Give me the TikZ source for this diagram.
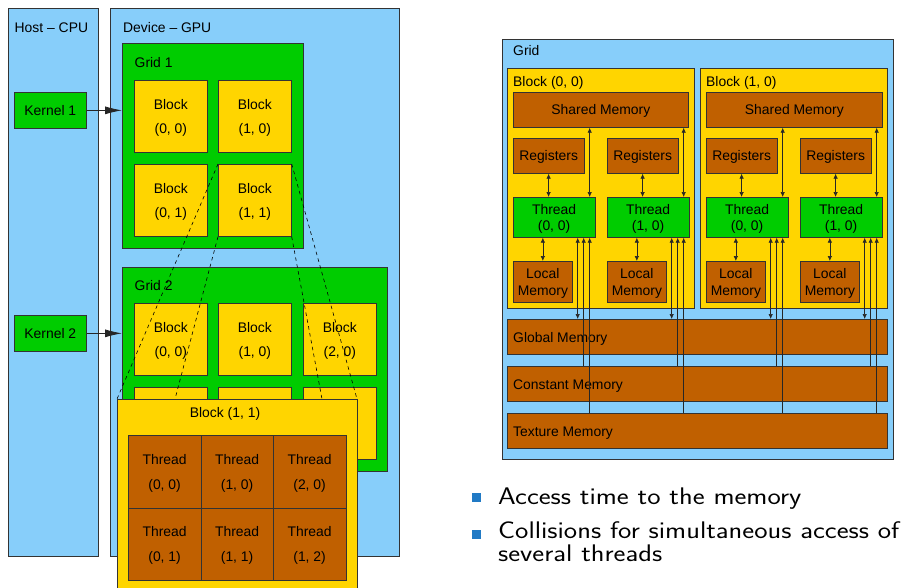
\documentclass[tikz,border=0pt]{standalone}
\usepackage{graphicx}
\usepackage{fontspec}
\newfontfamily\lsans{Liberation Sans}
\usetikzlibrary{arrows.meta}
\definecolor{lblue}{RGB}{135,206,250}
\definecolor{ggreen}{RGB}{0,204,0}
\definecolor{gold}{RGB}{255,213,0}
\definecolor{brn}{RGB}{192,96,0}
\definecolor{bulblue}{RGB}{33,122,197}
\tikzset{
  bx/.style={draw=black!80, line width=0.7pt, inner sep=0pt, anchor=north west, text=black},
  sz/.style 2 args={minimum width=#1pt, minimum height=#2pt},
  oneline/.style={font=\lsans\fontsize{13.9}{16.7}\selectfont, text height=10pt, text depth=0pt},
  twoline/.style 2 args={font=\lsans\fontsize{13.9}{#1}\selectfont, align=center, text height=#2, text depth=0pt},
  lbl/.style={anchor=base west, inner sep=0pt, text=black, font=\lsans\fontsize{13.9}{16.7}\selectfont},
  bigarr/.style={draw=black!85, line width=0.8pt, -{Latex[length=17pt,width=8pt]}},
  dsh/.style={draw=black, line width=0.6pt, dash pattern=on 3.5pt off 3.5pt},
  marr/.style={draw=black!85, line width=0.7pt},
  >={Latex[length=5pt,width=4.5pt]},
  bulsq/.style={fill=bulblue, minimum size=9pt, inner sep=0pt},
  btext/.style={anchor=base west, inner sep=0pt, font=\sffamily\fontsize{24}{23}\selectfont}
}
\newcommand{\wide}[1]{\scalebox{1.18}[1]{#1}}
\begin{document}
\begin{tikzpicture}[x=1pt,y=-1pt]
\useasboundingbox (0,0) rectangle (905,587);
\clip (0,0) rectangle (905,587);
% ---------------- left diagram ----------------
\node[bx, fill=lblue, sz={90}{548}] (host) at (8,8) {};
\node[bx, fill=lblue, sz={289}{548}] (dev) at (110,8) {};
\node[lbl] (hostl) at (14.5,32) {Host – CPU};
\node[lbl] (devl) at (123,32) {Device – GPU};
% grid 1
\node[bx, fill=ggreen, sz={181}{205}] (g1) at (122,43) {};
\node[lbl] (g1l) at (134.5,67.7) {Grid 1};
\foreach \nm/\xx/\yy/\lab in {g1b00/134/80/{(0, 0)}, g1b10/218/80/{(1, 0)}, g1b01/134/164/{(0, 1)}, g1b11/218/164/{(1, 1)}}
  \node[bx, fill=gold, sz={73}{72}, twoline={24pt}{34pt}] (\nm) at (\xx,\yy) {Block\\\lab};
% grid 2
\node[bx, fill=ggreen, sz={265}{204}] (g2) at (122,267) {};
\node[lbl] (g2l) at (134.5,290.7) {Grid 2};
\foreach \nm/\xx/\yy/\lab in {g2b00/134/303/{(0, 0)}, g2b10/218/303/{(1, 0)}, g2b20/303/303/{(2, 0)}}
  \node[bx, fill=gold, sz={73}{72}, twoline={24pt}{34pt}] (\nm) at (\xx,\yy) {Block\\\lab};
\foreach \nm/\xx in {g2b01/134, g2b11/218, g2b21/303}
  \node[bx, fill=gold, sz={73}{72}] (\nm) at (\xx,387) {};
% kernels
\node[bx, fill=ggreen, sz={72}{36}, oneline] (k1) at (14,92) {Kernel 1};
\node[bx, fill=ggreen, sz={72}{36}, oneline] (k2) at (14,315) {Kernel 2};
\draw[bigarr] (k1.east) -- (k1.east -| g1.west);
\draw[bigarr] (k2.east) -- (k2.east -| g2.west);
% dashed projection lines
\coordinate (ovtl) at (117,399);
\coordinate (ovtr) at (357,399);
\coordinate (ovbl) at (175,399);
\coordinate (ovbr) at (322,399);
\draw[dsh] (g1b11.north west) -- (ovtl);
\draw[dsh] (g1b11.north east) -- (ovtr);
\draw[dsh] (g1b11.south west) -- (ovbl);
\draw[dsh] (g1b11.south east) -- (ovbr);
% expanded block
\node[bx, fill=gold, sz={240}{230}] (ov) at (117,399) {};
\node[lbl, anchor=base] (ovl) at (225,417) {Block (1, 1)};
\foreach \nm/\xx/\yy/\lab in {t00/128/435/{(0, 0)}, t10/200.5/435/{(1, 0)}, t20/273/435/{(2, 0)}, t01/128/507.5/{(0, 1)}, t11/200.5/507.5/{(1, 1)}, t21/273/507.5/{(1, 2)}}
  \node[bx, fill=brn, sz={72.5}{72.5}, twoline={25pt}{35pt}] (\nm) at (\xx,\yy) {Thread\\\lab};
% ---------------- right diagram ----------------
\node[bx, fill=lblue, sz={391}{420}] (rgrid) at (502,39) {};
\node[lbl] (rgridl) at (513,55.7) {Grid};
\node[bx, fill=gold, sz={187}{240}] (rb0) at (507,68) {};
\node[bx, fill=gold, sz={187}{240}] (rb1) at (700,68) {};
\node[lbl] (rb0l) at (513,86) {Block (0, 0)};
\node[lbl] (rb1l) at (706,86) {Block (1, 0)};
\node[bx, fill=brn, sz={175}{35}, oneline] (sh0) at (513,92) {Shared Memory};
\node[bx, fill=brn, sz={176}{35}, oneline] (sh1) at (706,92) {Shared Memory};
\foreach \nm/\xx in {reg00/513, reg01/607, reg10/706, reg11/800}
  \node[bx, fill=brn, sz={70.5}{35}, oneline] (\nm) at (\xx,138) {Registers};
\foreach \nm/\xx/\lab in {th00/513/{(0, 0)}, th01/607/{(1, 0)}, th10/706/{(0, 0)}, th11/800/{(1, 0)}}
  \node[bx, fill=ggreen, sz={81.5}{40}, twoline={16.7pt}{26.7pt}] (\nm) at (\xx,197) {Thread\\\lab};
\foreach \nm/\xx in {lm00/513, lm01/607, lm10/706, lm11/800}
  \node[bx, fill=brn, sz={59}{41}, twoline={17pt}{27pt}] (\nm) at (\xx,261) {Local\\Memory};
\node[bx, fill=brn, sz={380}{35}] (gmem) at (507,319) {};
\node[bx, fill=brn, sz={380}{35}] (cmem) at (507,366) {};
\node[bx, fill=brn, sz={380}{35}] (tmem) at (507,413) {};
\node[lbl] (gmeml) at (513,342.7) {Global Memory};
\node[lbl] (cmeml) at (513,389.7) {Constant Memory};
\node[lbl] (tmeml) at (513,436.7) {Texture Memory};
% arrows per thread
\foreach \t/\r/\l/\s in {th00/reg00/lm00/sh0, th01/reg01/lm01/sh0, th10/reg10/lm10/sh1, th11/reg11/lm11/sh1}{
  \draw[marr, <->] (\r.south) -- (\r.south |- \t.north);
  \draw[marr, <->] ([xshift=-5.5pt]\t.north east |- \s.south) -- ([xshift=-5.5pt]\t.north east);
  \draw[marr, <->] (\l.north |- \t.south) -- (\l.north);
  \draw[marr, <->] ([xshift=-17.5pt]\t.south east) -- ([xshift=-17.5pt]\t.south east |- gmem.north);
  \draw[marr, ->] ([xshift=-11.5pt]\t.south east |- cmem.north) -- ([xshift=-11.5pt]\t.south east);
  \draw[marr, ->] ([xshift=-5.5pt]\t.south east |- tmem.north) -- ([xshift=-5.5pt]\t.south east);
}
% ---------------- bullets ----------------
\node[bulsq] (bul1) at (476.5,497.5) {};
\node[bulsq] (bul2) at (476.5,534.5) {};
\node[btext] (bt1) at (498,504) {\wide{Access time to the memory}};
\node[btext] (bt2) at (498,538) {\wide{Collisions for simultaneous access of}};
\node[btext] (bt3) at (498,561) {\wide{several threads}};
\end{tikzpicture}
\end{document}
